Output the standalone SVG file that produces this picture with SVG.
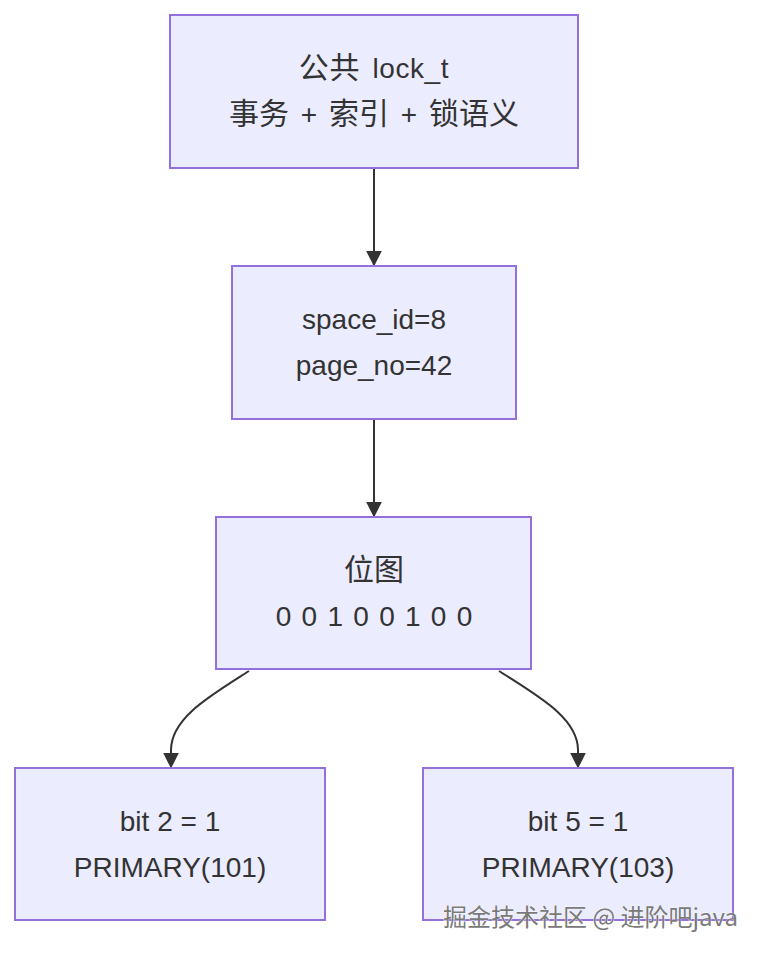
<svg xmlns="http://www.w3.org/2000/svg" width="764" height="956" viewBox="0 0 764 956">
<style>
.node rect{fill:#ECECFF;stroke:#9370DB;stroke-width:2}
.node text{font-family:"Liberation Sans","Noto Sans CJK SC",sans-serif;font-size:28px;fill:#333;text-anchor:middle}
.node .cjk{font-family:"Noto Sans CJK SC",sans-serif;font-size:30px}
.edge{fill:none;stroke:#333;stroke-width:2}
.wm{font-family:"Noto Sans CJK SC","Liberation Sans",sans-serif;font-size:24px;fill:#7a7a7a;stroke:#fff;stroke-width:0.7;paint-order:stroke}
</style>
<defs>
<marker id="arrow" viewBox="0 0 10 10" refX="9" refY="5" markerWidth="8" markerHeight="8" markerUnits="strokeWidth" orient="auto">
<path d="M0,0 L10,5 L0,10 z" fill="#333"/>
</marker>
</defs>
<rect width="764" height="956" fill="#fff"/>
<g id="connectors">
<path class="edge" d="M374,168 L374,265" marker-end="url(#arrow)"/>
<path class="edge" d="M374,419 L374,516" marker-end="url(#arrow)"/>
<path class="edge" d="M249,671 C210,696 171,718 171,750 L171,767" marker-end="url(#arrow)"/>
<path class="edge" d="M499,671 C538,696 578,718 578,750 L578,767" marker-end="url(#arrow)"/>
</g>
<g id="node1" class="node">
<rect x="170" y="15" width="408" height="153"/>
<text x="374" y="78" word-spacing="4" letter-spacing="0.6"><tspan class="cjk">公共</tspan> lock_t</text>
<text x="374" y="124" word-spacing="4"><tspan class="cjk">事务</tspan> + <tspan class="cjk">索引</tspan> + <tspan class="cjk">锁语义</tspan></text>
</g>
<g id="node2" class="node">
<rect x="232" y="266" width="284" height="153"/>
<text x="374" y="329">space_id=8</text>
<text x="374" y="375">page_no=42</text>
</g>
<g id="node3" class="node">
<rect x="216" y="517" width="315" height="152"/>
<text x="374" y="580" class="cjk">位图</text>
<text x="374" y="626" word-spacing="2.5">0 0 1 0 0 1 0 0</text>
</g>
<g id="node4" class="node">
<rect x="15" y="768" width="310" height="152"/>
<text x="170" y="831">bit 2 = 1</text>
<text x="170" y="877">PRIMARY(101)</text>
</g>
<g id="node5" class="node">
<rect x="423" y="768" width="310" height="152"/>
<text x="578" y="831">bit 5 = 1</text>
<text x="578" y="877">PRIMARY(103)</text>
</g>
<text class="wm" x="443" y="926">掘金技术社区 @ 进阶吧java</text>
</svg>
